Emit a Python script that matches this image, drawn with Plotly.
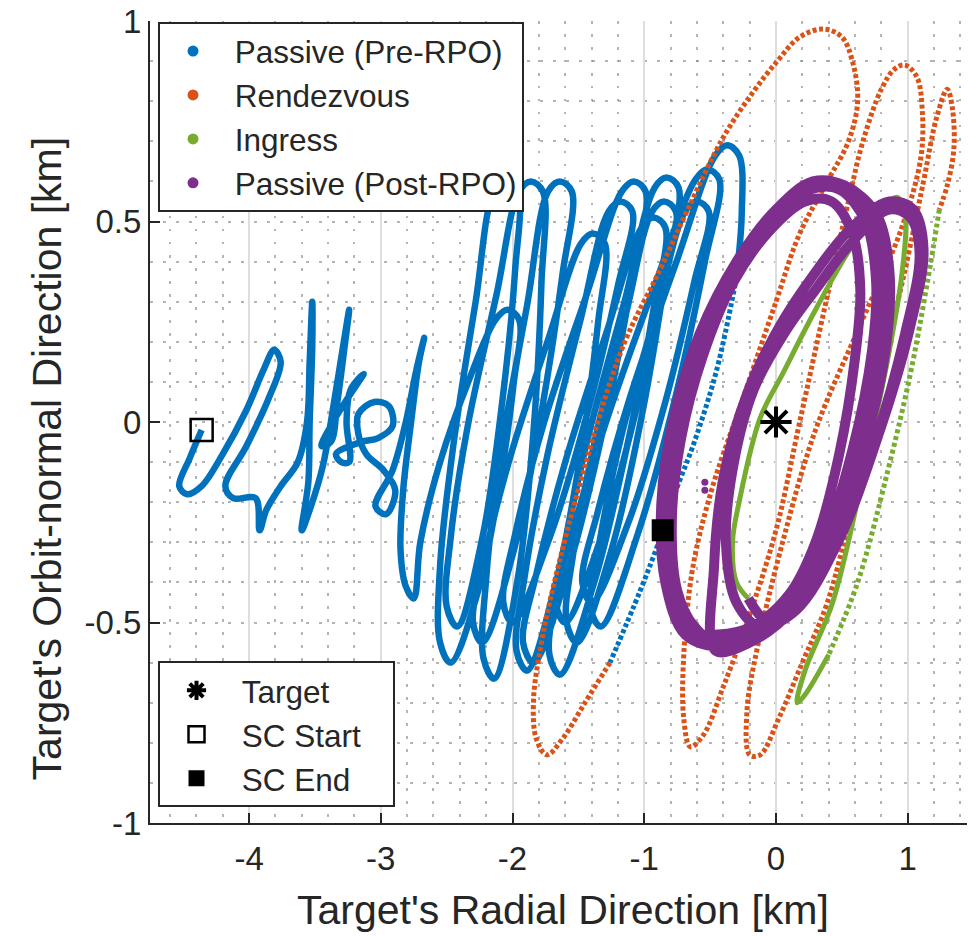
import plotly.graph_objects as go

# ---------------- data (km) ----------------
# Passive (Pre-RPO): left scribble, then the tilted loops (one row per loop)
blue_x = [-4.36,-4.45,-4.53,-4.47,-4.36,-4.20,-4.02,-3.89,-3.81,-3.76,-3.85,-4.02,-4.18,-4.12,-3.95,-3.92,-3.87,-3.76,-3.63,-3.56,
          -3.54,-3.52,-3.52,-3.54,-3.55,-3.60,-3.53,-3.44,-3.34,-3.24,-3.27,-3.33,-3.38,-3.45,-3.38,-3.27,-3.13,-3.23,-3.26,-3.24,
          -3.30,-3.34,-3.15,-3.02,-2.91,-2.94,-3.05,-3.17,-3.17,-3.11,-2.98,-2.89,-2.96,-3.04,-2.91,-2.81,-2.73,-2.67,-2.71,
          -2.77,-2.83,-2.85,-2.81,-2.75,
          -2.70,-2.55,-2.33,-2.13,-2.04,-1.95,-1.99,-2.10,-2.26, -2.47,-2.55,
          -2.55,-2.45,-2.28,-2.14,-2.05,-1.96,-1.98,-2.08,-2.23, -2.42,-2.50,
          -2.47,-2.34,-2.12,-1.95,-1.86,-1.77,-1.78,-1.84,-1.96, -2.14,-2.22,
          -2.20,-2.09,-1.89,-1.73,-1.64,-1.55,-1.62,-1.78,-1.99, -2.23,-2.30,
          -2.22,-2.02,-1.72,-1.48,-1.39,-1.30,-1.35,-1.48,-1.67, -1.89,-1.97,
          -1.91,-1.74,-1.48,-1.27,-1.18,-1.09,-1.20,-1.43,-1.72, -2.00,-2.07,
          -1.98,-1.76,-1.43,-1.17,-1.08,-0.99,-1.09,-1.30,-1.57, -1.84,-1.92,
          -1.82,-1.60,-1.28,-1.02,-0.93,-0.84,-0.93,-1.13,-1.38, -1.64,-1.72,
          -1.64,-1.45,-1.15,-0.92,-0.83,-0.74,-0.83,-1.01,-1.25, -1.51,-1.59,
          -1.54,-1.38,-1.135,-0.94,-0.85,-0.76,-0.86,-1.065,-1.33, -1.60,-1.67,
          -1.54,-1.28,-0.91,-0.61,-0.52,-0.43,-0.54,-0.765,-1.05, -1.33,-1.41,
          -1.34,-1.17,-0.90,-0.69,-0.60,-0.51,-0.62,-0.84,-1.12, -1.40,-1.47,
          -1.35,-1.11,-0.75,-0.46,-0.37,-0.28,-0.26,-0.30]
blue_y = [-0.02,-0.09,-0.16,-0.18,-0.16,-0.08,0.03,0.13,0.18,0.15,0.06,-0.06,-0.16,-0.19,-0.19,-0.27,-0.22,-0.16,-0.10,0.00,
          0.15,0.30,0.19,0.00,-0.15,-0.27,-0.21,-0.11,0.08,0.28,0.20,0.05,-0.05,-0.06,-0.01,0.05,0.12,0.08,0.00,-0.10,
          -0.10,-0.08,-0.05,-0.04,-0.01,0.04,0.05,0.02,-0.03,-0.08,-0.12,-0.17,-0.23,-0.21,-0.12,0.00,0.13,0.21,0.15,
          0.00,-0.17,-0.32,-0.41,-0.44,
          -0.30,-0.10,0.105,0.255,0.28,0.255,0.10,-0.16,-0.42, -0.60,-0.55,
          -0.36,-0.06,0.30,0.575,0.60,0.575,0.38,0.045,-0.29, -0.51,-0.46,
          -0.29,-0.01,0.32,0.575,0.60,0.575,0.35,-0.02,-0.39, -0.64,-0.59,
          -0.39,-0.08,0.29,0.575,0.60,0.575,0.37,0.025,-0.32, -0.55,-0.50,
          -0.35,-0.09,0.215,0.445,0.47,0.445,0.25,-0.075,-0.40, -0.62,-0.57,
          -0.39,-0.09,0.26,0.525,0.55,0.525,0.34,0.025,-0.29, -0.50,-0.45,
          -0.28,0.00,0.325,0.575,0.60,0.575,0.36,0.00,-0.36, -0.60,-0.55,
          -0.38,-0.10,0.23,0.485,0.51,0.485,0.28,-0.06,-0.40, -0.63,-0.58,
          -0.38,-0.07,0.30,0.585,0.61,0.585,0.38,0.03,-0.32, -0.55,-0.50,
          -0.33,-0.055,0.275,0.525,0.55,0.525,0.34,0.025,-0.29, -0.50,-0.45,
          -0.27,0.01,0.35,0.605,0.63,0.605,0.40,0.06,-0.28, -0.51,-0.46,
          -0.30,-0.03,0.285,0.525,0.55,0.525,0.35,0.05,-0.25, -0.45,-0.40,
          -0.22,0.06,0.405,0.665,0.69,0.665,0.52,0.36]
blue_tail_x = [-0.30,-0.45,-0.62,-0.77,-0.88,-1.03,-1.26]
blue_tail_y = [0.36,0.13,-0.05,-0.18,-0.29,-0.42,-0.60]

# Rendezvous
orange_x = [-1.26,-1.45,-1.62,-1.74,-1.82,-1.84,-1.78,-1.69,-1.45,-1.16,-0.88,-0.67,-0.40,-0.18,0.01,0.18,0.36,0.50,0.58,0.62,
            0.55,0.39,0.18,0.00,-0.26,-0.48,-0.63,-0.70,-0.70,-0.65,
            -0.55,-0.40,-0.22,0.00,0.18,0.38,0.55,0.66,0.80,0.90,0.98,1.07,1.11,
            1.10,0.95,0.65,0.30,0.05,-0.14,-0.22,-0.20,
            -0.12,0.02,0.20,0.39,0.60,0.78,0.98,1.12,1.22,1.30,1.34,1.35,1.30,1.24]
orange_y = [-0.60,-0.70,-0.79,-0.83,-0.79,-0.69,-0.55,-0.41,-0.11,0.19,0.38,0.53,0.71,0.82,0.90,0.96,0.98,0.96,0.90,0.80,
            0.70,0.60,0.47,0.30,0.05,-0.16,-0.36,-0.58,-0.74,-0.81,
            -0.78,-0.66,-0.50,-0.27,0.00,0.30,0.55,0.70,0.83,0.88,0.89,0.86,0.78,
            0.66,0.48,0.25,-0.02,-0.30,-0.56,-0.72,-0.83,
            -0.83,-0.74,-0.60,-0.45,-0.18,0.10,0.38,0.60,0.76,0.83,0.78,0.68,0.59,0.53]

# Ingress (fast dotted part, then slow part)
green_fast_x = [1.24,1.15,1.02,0.85,0.62,0.40]
green_fast_y = [0.53,0.35,0.12,-0.12,-0.40,-0.58]
green_x = [0.40,0.22,0.16,0.22,0.43,0.65,0.85,0.96,0.98,0.92,0.80,0.58,0.30,0.05,-0.12,-0.28,-0.33,-0.30,-0.21]
green_y = [-0.58,-0.68,-0.70,-0.62,-0.45,-0.15,0.16,0.38,0.52,0.56,0.53,0.44,0.28,0.12,0.01,-0.20,-0.30,-0.40,-0.44]

# Passive (Post-RPO)
purple_x = [-0.21,-0.05,0.15,0.45,0.75,0.98,1.09,1.02,0.86,0.58,0.30,0.08,-0.17,-0.33,-0.38,-0.30,-0.12,
            0.15,0.47,0.78,1.02,1.12,1.04,0.86,0.56,0.27,0.03,-0.22,-0.40,-0.47,
            -0.46,-0.20,0.12,0.42,0.68,0.84,0.86,0.76,0.52,0.28,0.00,-0.30,-0.58,-0.77,-0.87,-0.84,-0.69,
            -0.45,-0.19,0.11,0.38,0.62,0.78,0.80,0.71,0.50,0.27,-0.01,-0.30,-0.57,-0.74,-0.83,-0.80,-0.66,
            -0.44,-0.18,0.10,0.30,0.48,0.60,0.64,0.58,0.42,0.22,-0.04,-0.32,-0.56,-0.72,-0.79,-0.75,-0.62,
            -0.45,-0.19,0.11,0.36,0.58,0.73,0.76,0.68,0.48,0.26,-0.02,-0.31,-0.57,-0.75,-0.84,-0.86]
purple_y = [-0.44,-0.50,-0.46,-0.30,-0.05,0.22,0.42,0.51,0.53,0.45,0.33,0.23,0.08,-0.12,-0.30,-0.45,-0.51,
            -0.47,-0.30,-0.03,0.24,0.43,0.53,0.55,0.48,0.36,0.24,0.07,-0.14,-0.36,
            -0.57,-0.55,-0.47,-0.30,-0.05,0.20,0.38,0.52,0.59,0.60,0.53,0.40,0.22,0.02,-0.20,-0.40,-0.53,
            -0.56,-0.54,-0.46,-0.30,-0.06,0.18,0.36,0.50,0.58,0.59,0.52,0.39,0.20,0.00,-0.22,-0.41,-0.52,
            -0.53,-0.51,-0.43,-0.30,-0.08,0.16,0.33,0.47,0.55,0.55,0.48,0.35,0.16,-0.04,-0.24,-0.42,-0.51,
            -0.55,-0.53,-0.45,-0.30,-0.07,0.18,0.35,0.50,0.58,0.58,0.51,0.38,0.19,-0.01,-0.18,-0.27]
# a few isolated Post-RPO samples
purple_dots_x = [-0.54,-0.54,-0.33,-0.33,-0.27]
purple_dots_y = [-0.15,-0.17,-0.10,-0.13,-0.03]

target_xy = (0.0, 0.0)
start_xy = (-4.36, -0.02)
end_xy = (-0.86, -0.27)

x_ticks = [-4, -3, -2, -1, 0, 1]
x_ticklabels = ["-4", "-3", "-2", "-1", "0", "1"]
y_ticks = [-1, -0.5, 0, 0.5, 1]
y_ticklabels = ["-1", "-0.5", "0", "0.5", "1"]

phase_names = ["Passive (Pre-RPO)", "Rendezvous", "Ingress", "Passive (Post-RPO)"]
phase_colors = ["#0072BD", "#D95319", "#77AC30", "#7E2F8E"]
marker_names = ["Target", "SC Start", "SC End"]
x_title = "Target's Radial Direction [km]"
y_title = "Target's Orbit-normal Direction [km]"

FONT = "Liberation Sans, Arial, sans-serif"
INK = "#262626"
NB = "\u00a0"

fig = go.Figure()

def path(x, y, color, width, dash="solid"):
    fig.add_trace(go.Scatter(x=x, y=y, mode="lines", showlegend=False, hoverinfo="skip",
                             line=dict(color=color, width=width, dash=dash, shape="spline", smoothing=1.0)))

path(blue_x, blue_y, phase_colors[0], 6.5)
path(blue_tail_x, blue_tail_y, phase_colors[0], 5, "4px,2.5px")
path(orange_x, orange_y, phase_colors[1], 5, "4px,2.5px")
path(green_fast_x, green_fast_y, phase_colors[2], 5, "4px,3px")
path(green_x, green_y, phase_colors[2], 5)
path(purple_x, purple_y, phase_colors[3], 10)
fig.add_trace(go.Scatter(x=purple_dots_x, y=purple_dots_y, mode="markers", showlegend=False, hoverinfo="skip",
                         marker=dict(color=phase_colors[3], size=7)))

# legend 1 entries (phase colours)
for name, col in zip(phase_names, phase_colors):
    fig.add_trace(go.Scatter(x=[None], y=[None], mode="markers", name=NB + name, legend="legend",
                             marker=dict(color=col, size=11)))

# point markers (legend 2)
fig.add_trace(go.Scatter(x=[target_xy[0]], y=[target_xy[1]], mode="markers", name=NB + marker_names[0], legend="legend2",
                         marker=dict(symbol="asterisk", size=26, color="black", line=dict(color="black", width=4))))
fig.add_trace(go.Scatter(x=[start_xy[0]], y=[start_xy[1]], mode="markers", name=NB + marker_names[1] + NB * 3, legend="legend2",
                         marker=dict(symbol="square-open", size=22, color="black", line=dict(color="black", width=2.5))))
fig.add_trace(go.Scatter(x=[end_xy[0]], y=[end_xy[1]], mode="markers", name=NB + marker_names[2], legend="legend2",
                         marker=dict(symbol="square", size=22, color="black", line=dict(color="black", width=0))))

minor_style = dict(showgrid=True, gridcolor="rgba(130,130,130,0.6)", griddash="2.5px,10.5px", gridwidth=1.5, ticks="")

fig.update_layout(
    width=970, height=936,
    margin=dict(l=150, r=3, t=18, b=113),
    paper_bgcolor="white", plot_bgcolor="white",
    font=dict(family=FONT, color=INK, size=31),
    xaxis=dict(range=[-4.752, 1.450], tickmode="array", tickvals=x_ticks, ticktext=x_ticklabels,
               ticks="inside", ticklen=10, tickwidth=2, tickcolor=INK,
               showline=True, linecolor=INK, linewidth=2, zeroline=False,
               showgrid=True, gridcolor="#dedede", gridwidth=2,
               minor=dict(dtick=0.2, tick0=0, **minor_style),
               tickfont=dict(size=33, family=FONT, color=INK), ticklabelstandoff=5,
               ticklabeloverflow="allow"),
    yaxis=dict(range=[-1, 1], tickmode="array", tickvals=y_ticks, ticktext=y_ticklabels,
               ticks="inside", ticklen=10, tickwidth=2, tickcolor=INK,
               showline=True, linecolor=INK, linewidth=2, zeroline=False,
               showgrid=False,
               minor=dict(dtick=0.1, tick0=0, **minor_style),
               tickfont=dict(size=33, family=FONT, color=INK), ticklabelstandoff=0,
               ticklabeloverflow="allow"),
    legend=dict(x=0.0098, y=0.9987, xanchor="left", yanchor="top", bgcolor="white",
                bordercolor=INK, borderwidth=2, font=dict(size=31.5, family=FONT, color=INK),
                itemwidth=56, tracegroupgap=0),
    legend2=dict(x=0.0098, y=0.2015, xanchor="left", yanchor="top", bgcolor="white",
                 bordercolor=INK, borderwidth=2, font=dict(size=31.5, family=FONT, color=INK),
                 itemwidth=63, tracegroupgap=0),
    annotations=[
        dict(text=x_title, xref="paper", yref="paper", x=0.5055, y=-0.108, xanchor="center", yanchor="middle",
             showarrow=False, font=dict(size=41, family=FONT, color=INK)),
        dict(text=y_title, xref="paper", yref="paper", x=-0.126, y=0.4547, xanchor="center", yanchor="middle",
             textangle=-90, showarrow=False, font=dict(size=41, family=FONT, color=INK)),
    ],
)

fig.write_html("out.html")
